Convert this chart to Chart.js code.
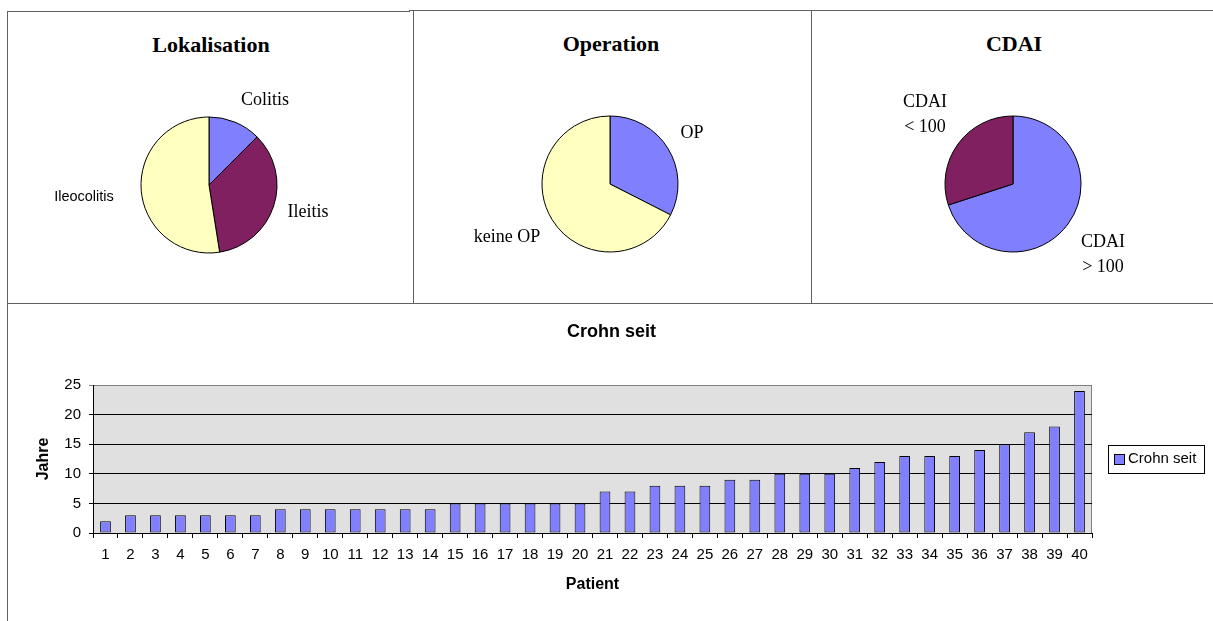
<!DOCTYPE html>
<html>
<head>
<meta charset="utf-8">
<script src="https://cdn.jsdelivr.net/npm/chart.js@4.4.1/dist/chart.umd.min.js"></script>
<style>
  html, body { margin: 0; padding: 0; background: #fff; }
  body { width: 1213px; height: 621px; overflow: hidden; position: relative; }
  .rule { position: absolute; background: #606060; }
  .ptitle { position: absolute; width: 240px; text-align: center; color: #000;
            font: bold 22px "Liberation Serif", "Times New Roman", serif; line-height: 26px; }
  canvas { position: absolute; }
</style>
</head>
<body>
<!-- panel frame -->
<div class="rule" style="left:8px;top:11px;width:402px;height:1px"></div>
<div class="rule" style="left:409px;top:10px;width:804px;height:1px"></div>
<div class="rule" style="left:7px;top:11px;width:1px;height:610px"></div>
<div class="rule" style="left:413px;top:10px;width:1px;height:293px"></div>
<div class="rule" style="left:811px;top:10px;width:1px;height:293px"></div>
<div class="rule" style="left:7px;top:303px;width:1206px;height:1px"></div>

<div class="ptitle" style="left:91px;top:32px">Lokalisation</div>
<div class="ptitle" style="left:491px;top:31px">Operation</div>
<div class="ptitle" style="left:894px;top:31px">CDAI</div>

<canvas id="pieLok" width="360" height="230" style="left:29px;top:70px;width:360px;height:230px"></canvas>
<canvas id="pieOp" width="360" height="230" style="left:430px;top:69px;width:360px;height:230px"></canvas>
<canvas id="pieCdai" width="360" height="230" style="left:833px;top:69px;width:360px;height:230px"></canvas>
<canvas id="bars" width="1223" height="317" style="left:0px;top:304px;width:1223px;height:317px"></canvas>

<script>
// ---- data ----
const lokalisationLabels = ['Colitis', 'Ileitis', 'Ileocolitis'];
const lokalisationCounts = [5, 14, 21];

const operationLabels = ['OP', 'keine OP'];
const operationCounts = [13, 27];

const cdaiLabels = [['CDAI', '> 100'], ['CDAI', '< 100']];
const cdaiCounts = [28, 12];

const patientLabels = ['1','2','3','4','5','6','7','8','9','10',
  '11','12','13','14','15','16','17','18','19','20',
  '21','22','23','24','25','26','27','28','29','30',
  '31','32','33','34','35','36','37','38','39','40'];
const crohnSeitJahre = [2, 3, 3, 3, 3, 3, 3, 4, 4, 4,
  4, 4, 4, 4, 5, 5, 5, 5, 5, 5,
  7, 7, 8, 8, 8, 9, 9, 10, 10, 10,
  11, 12, 13, 13, 13, 14, 15, 17, 18, 24];
const yTicks = [0, 5, 10, 15, 20, 25];

// ---- styling ----
const BLUE = '#8080FF';
const PLUM = '#802060';
const CREAM = '#FFFFC0';
const SERIF = '"Liberation Serif", "Times New Roman", serif';
const SANS = '"Liberation Sans", Arial, sans-serif';

Chart.defaults.font.family = SANS;
Chart.defaults.color = '#000';

// Slice captions placed around the pie centre
const sliceLabels = {
  id: 'sliceLabels',
  afterDraw(chart, args, opts) {
    const arc = chart.getDatasetMeta(0).data[0];
    if (!arc) return;
    const ctx = chart.ctx;
    ctx.save();
    ctx.fillStyle = '#000';
    ctx.textAlign = 'center';
    ctx.textBaseline = 'middle';
    chart.data.labels.forEach((lab, i) => {
      const off = opts.offsets[i];
      ctx.font = (opts.fonts && opts.fonts[i]) || opts.font;
      const lines = Array.isArray(lab) ? lab : [lab];
      lines.forEach((t, j) => {
        const dy = (j - (lines.length - 1) / 2) * opts.lineHeight;
        ctx.fillText(t, arc.x + off[0], arc.y + off[1] + dy);
      });
    });
    ctx.restore();
  }
};

function makePie(id, labels, counts, colors, labelOpts) {
  return new Chart(document.getElementById(id), {
    type: 'pie',
    data: {
      labels: labels,
      datasets: [{ data: counts, backgroundColor: colors, borderColor: '#000', borderWidth: 1 }]
    },
    options: {
      responsive: false,
      animation: false,
      radius: 68,
      layout: { padding: 0 },
      plugins: {
        legend: { display: false },
        tooltip: { enabled: false },
        sliceLabels: Object.assign({ font: '18px ' + SERIF, lineHeight: 24.6 }, labelOpts)
      }
    },
    plugins: [sliceLabels]
  });
}

makePie('pieLok', lokalisationLabels, lokalisationCounts, [BLUE, PLUM, CREAM], {
  offsets: [[56, -85], [99, 27], [-125, 12]],
  fonts: [null, null, '14.5px ' + SANS]
});
makePie('pieOp', operationLabels, operationCounts, [BLUE, CREAM], {
  offsets: [[82, -51], [-103, 53]]
});
makePie('pieCdai', cdaiLabels, cdaiCounts, [BLUE, PLUM], {
  offsets: [[90, 71], [-88, -69]]
});

// Grey plot area with its frame
const plotArea = {
  id: 'plotArea',
  beforeDraw(chart) {
    const { ctx, chartArea: a } = chart;
    ctx.save();
    ctx.fillStyle = '#E0E0E0';
    ctx.fillRect(a.left, a.top, a.right - a.left, a.bottom - a.top);
    ctx.strokeStyle = '#808080';
    ctx.lineWidth = 1;
    ctx.beginPath();
    ctx.moveTo(a.left, Math.round(a.top) + 0.5);
    ctx.lineTo(Math.round(a.right) - 0.5, Math.round(a.top) + 0.5);
    ctx.lineTo(Math.round(a.right) - 0.5, a.bottom);
    ctx.stroke();
    ctx.restore();
  }
};

// Boxed legend to the right of the plot
const boxedLegend = {
  id: 'boxedLegend',
  afterDraw(chart) {
    const { ctx, chartArea: a } = chart;
    const ds = chart.data.datasets[0];
    const left = Math.round(a.right) + 16;
    const h = 28, w = 96;
    const top = Math.round((a.top + a.bottom) / 2 - h / 2);
    ctx.save();
    ctx.strokeStyle = '#000';
    ctx.lineWidth = 1;
    ctx.strokeRect(left + 0.5, top + 0.5, w, h);
    ctx.fillStyle = ds.backgroundColor;
    ctx.fillRect(left + 6.5, top + 9.5, 10, 10);
    ctx.strokeRect(left + 6.5, top + 9.5, 10, 10);
    ctx.fillStyle = '#000';
    ctx.font = '15px ' + SANS;
    ctx.textAlign = 'left';
    ctx.textBaseline = 'middle';
    ctx.fillText(ds.label, left + 20, top + h / 2);
    ctx.restore();
  }
};

new Chart(document.getElementById('bars'), {
  type: 'bar',
  data: {
    labels: patientLabels,
    datasets: [{
      label: 'Crohn seit',
      data: crohnSeitJahre,
      backgroundColor: BLUE,
      borderColor: '#000',
      borderWidth: 1,
      borderSkipped: false,
      categoryPercentage: 1.0,
      barPercentage: 0.43
    }]
  },
  options: {
    responsive: false,
    animation: false,
    layout: { padding: 0 },
    plugins: {
      legend: { display: false },
      tooltip: { enabled: false },
      title: {
        display: true,
        text: 'Crohn seit',
        color: '#000',
        font: { family: SANS, size: 18, weight: 'bold' },
        padding: { top: 17.5, bottom: 41.9 }
      }
    },
    scales: {
      x: {
        type: 'category',
        position: 'bottom',
        grid: { display: true, drawOnChartArea: false, drawTicks: true, tickLength: 5, color: '#000', offset: true },
        border: { display: true, color: '#000', width: 1 },
        ticks: { font: { size: 15 }, color: '#000', padding: 8, maxRotation: 0, minRotation: 0, autoSkip: false },
        title: { display: true, text: 'Patient', color: '#000',
                 font: { size: 16, weight: 'bold' }, padding: { top: 0, bottom: 26.4 } },
        afterFit(s) { s.height = 88; }
      },
      y: {
        position: 'left',
        min: yTicks[0],
        max: yTicks[yTicks.length - 1],
        afterBuildTicks(s) { s.ticks = yTicks.map(v => ({ value: v })); },
        grid: {
          color: c => (c.tick && c.tick.value === yTicks[yTicks.length - 1]) ? '#808080' : '#000',
          tickLength: 4, drawTicks: true
        },
        border: { display: true, color: '#000', width: 1 },
        ticks: { font: { size: 15 }, color: '#000', padding: 8 },
        title: { display: true, text: 'Jahre', color: '#000',
                 font: { size: 16, weight: 'bold' }, padding: { top: 34.4, bottom: 0 } },
        afterFit(s) { s.width = 93; }
      },
      yRight: {
        axis: 'y',
        position: 'right',
        display: true,
        grid: { display: false },
        border: { display: false },
        ticks: { display: false },
        afterFit(s) { s.width = 131; }
      }
    }
  },
  plugins: [plotArea, boxedLegend]
});
</script>
</body>
</html>
